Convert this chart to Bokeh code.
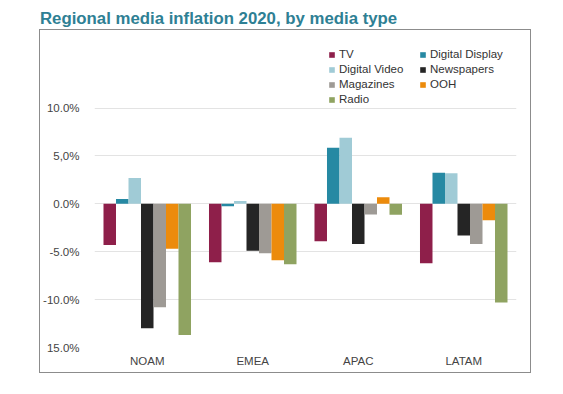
from bokeh.plotting import figure
from bokeh.models import ColumnDataSource, FactorRange, Range1d, FixedTicker, Legend, LegendItem, Div
from bokeh.transform import dodge
from bokeh.layouts import column
from bokeh.embed import file_html
from bokeh.resources import INLINE

regions = ["NOAM", "EMEA", "APAC", "LATAM"]
tv = [-4.3, -6.1, -3.9, -6.2]
digital_display = [0.5, -0.25, 5.85, 3.25]
digital_video = [2.7, 0.3, 6.9, 3.2]
newspapers = [-13.0, -4.9, -4.2, -3.3]
magazines = [-10.8, -5.15, -1.1, -4.2]
ooh = [-4.7, -5.9, 0.7, -1.7]
radio = [-13.7, -6.3, -1.15, -10.3]

series_names = ["TV", "Digital Display", "Digital Video", "Newspapers", "Magazines", "OOH", "Radio"]
series_values = [tv, digital_display, digital_video, newspapers, magazines, ooh, radio]
colors = ["#8E1F4A", "#2689A3", "#A0CBD6", "#252525", "#9E9A95", "#EC8B0C", "#8FA361"]

tick_values = [10, 5, 0, -5, -10, -15]
tick_labels = ["10.0%", "5,0%", "0.0%", "-5.0%", "-10.0%", "15.0%"]

data = {"region": regions}
for name, vals in zip(series_names, series_values):
    data[name] = vals
source = ColumnDataSource(data)

p = figure(x_range=FactorRange(*regions, range_padding=0), y_range=Range1d(-15, 18.1),
           width=492, height=344, output_backend="svg", toolbar_location=None,
           min_border_left=50, min_border_right=16, min_border_top=0, min_border_bottom=27,
           outline_line_color=None, margin=(0, 0, 0, 39),
           styles={"border": "1px solid #8c8c8c"})

bw = 0.1185
renderers = {}
for i, (name, col) in enumerate(zip(series_names, colors)):
    r = p.vbar(x=dodge("region", (i - 3) * bw, range=p.x_range), top=name, bottom=0,
               width=bw, source=source, fill_color=col, line_color=None)
    renderers[name] = r

p.xgrid.grid_line_color = None
p.ygrid.grid_line_color = "#e3e3e3"
p.ygrid.grid_line_width = 1.2
p.yaxis.ticker = FixedTicker(ticks=tick_values)
p.yaxis.major_label_overrides = {v: l for v, l in zip(tick_values, tick_labels)}
for ax in (p.xaxis, p.yaxis):
    ax.axis_line_color = None
    ax.major_tick_line_color = None
    ax.minor_tick_line_color = None
    ax.major_label_text_font = "Liberation Sans"
    ax.major_label_text_font_size = "11.5px"
    ax.major_label_text_color = "#444444"
p.yaxis.major_label_standoff = 9
p.xaxis.major_label_standoff = 1

def make_legend(names, loc):
    leg = Legend(items=[LegendItem(label=n, renderers=[renderers[n]]) for n in names],
                 location=loc, orientation="vertical",
                 padding=0, margin=0, spacing=3, glyph_width=7, glyph_height=7,
                 label_standoff=4, label_height=12,
                 label_text_font="Liberation Sans", label_text_font_size="11.5px",
                 label_text_color="#333333", border_line_color=None,
                 background_fill_alpha=0)
    p.add_layout(leg, "center")

make_legend(["TV", "Digital Video", "Magazines", "Radio"], (234, 242))
make_legend(["Digital Display", "Newspapers", "OOH"], (325, 257))

title = Div(text="Regional media inflation 2020, by media type",
            width=500, height=21, margin=(8, 0, 0, 40),
            styles={"font-family": "Liberation Sans", "font-weight": "bold",
                    "font-size": "16.8px", "color": "#2E8094", "line-height": "21px",
                    "white-space": "nowrap"})

layout = column(title, p, spacing=0)
open("out.html", "w").write(file_html(layout, INLINE))
